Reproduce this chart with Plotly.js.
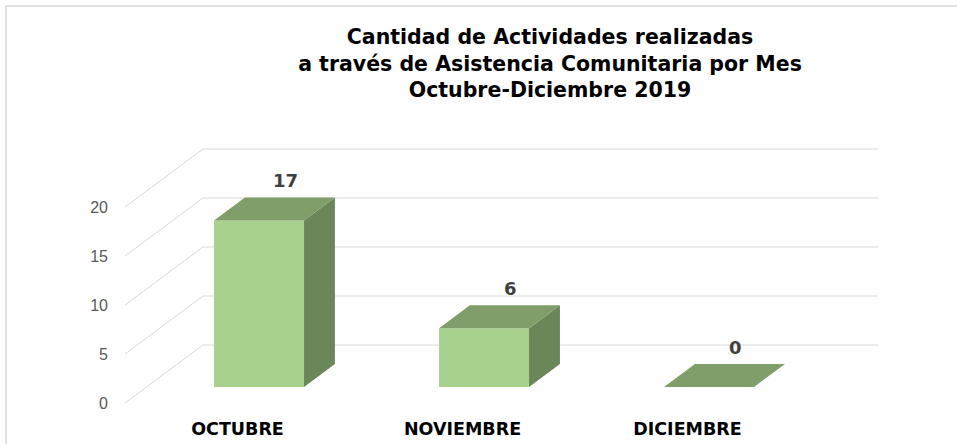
<!DOCTYPE html>
<html>
<head>
<meta charset="utf-8">
<script src="https://cdn.plot.ly/plotly-3.0.1.min.js"></script>
<style>
  html, body { margin: 0; padding: 0; background: #ffffff; }
  #chart { width: 957px; height: 444px; }
</style>
</head>
<body>
<div id="chart"></div>
<script>
// ---- data ----
const categories = ["OCTUBRE", "NOVIEMBRE", "DICIEMBRE"];
const values = [17, 6, 0];
const yTickValues = [0, 5, 10, 15, 20];
const yTickLabels = ["0", "5", "10", "15", "20"];
const titleLines = [
  "Cantidad de Actividades realizadas",
  "a través de Asistencia Comunitaria por Mes",
  "Octubre-Diciembre 2019"
];

// ---- oblique 3D projection settings (in axis units) ----
const DX = 78 / 225;     // horizontal shift of the back wall, x-axis units
const DY = 58 / 9.8;     // vertical shift of the back wall, y-axis units
const HALF_W = 0.2;      // half bar width (category units)
const F1 = 0.276;        // bar front depth
const F2 = 0.672;        // bar back depth

// gridlines: left wall diagonal + back wall horizontal
const gridX = [], gridY = [];
yTickValues.forEach(v => {
  gridX.push(-0.5, -0.5 + DX, categories.length - 0.5 + DX, null);
  gridY.push(v, v + DY, v + DY, null);
});

const frontX = [], frontY = [], topX = [], topY = [], sideX = [], sideY = [];
categories.forEach((c, i) => {
  const v = values[i];
  const xl = i - HALF_W, xr = i + HALF_W;
  frontX.push(xl + F1 * DX, xr + F1 * DX, xr + F1 * DX, xl + F1 * DX, null);
  frontY.push(F1 * DY, F1 * DY, v + F1 * DY, v + F1 * DY, null);
  topX.push(xl + F1 * DX, xr + F1 * DX, xr + F2 * DX, xl + F2 * DX, null);
  topY.push(v + F1 * DY, v + F1 * DY, v + F2 * DY, v + F2 * DY, null);
  sideX.push(xr + F1 * DX, xr + F2 * DX, xr + F2 * DX, xr + F1 * DX, null);
  sideY.push(F1 * DY, F2 * DY, v + F2 * DY, v + F1 * DY, null);
});

const traces = [
  { type: "scatter", mode: "lines", x: gridX, y: gridY,
    line: { color: "#D9D9D9", width: 1 }, hoverinfo: "skip", showlegend: false },
  { type: "scatter", mode: "lines", x: sideX, y: sideY, fill: "toself",
    fillcolor: "#6B8759", line: { color: "#6B8759", width: 0 }, hoverinfo: "skip", showlegend: false },
  { type: "scatter", mode: "lines", x: frontX, y: frontY, fill: "toself",
    fillcolor: "#A9D18E", line: { color: "#A9D18E", width: 0 }, hoverinfo: "skip", showlegend: false },
  { type: "scatter", mode: "lines", x: topX, y: topY, fill: "toself",
    fillcolor: "#7F9E6A", line: { color: "#7F9E6A", width: 0 }, hoverinfo: "skip", showlegend: false }
];

const annotations = categories.map((c, i) => ({
  x: i + 0.62 * DX, y: values[i] + F2 * DY, xref: "x", yref: "y",
  text: String(values[i]), showarrow: false, yanchor: "bottom", yshift: 4,
  font: { family: "DejaVu Sans", size: 18, color: "#404040", weight: "bold" }
}));

const layout = {
  width: 957, height: 444,
  margin: { l: 120, r: 72, t: 140, b: 34 },
  paper_bgcolor: "#ffffff", plot_bgcolor: "rgba(0,0,0,0)",
  showlegend: false,
  title: {
    text: titleLines.join("<br>"),
    font: { family: "DejaVu Sans", size: 20.5, color: "#000000", weight: "bold" },
    x: 550 / 957, xref: "container", xanchor: "center",
    y: 1 - 44 / 444, yref: "container", yanchor: "top"
  },
  xaxis: {
    range: [-0.5 - 5 / 225, -0.5 + 760 / 225],
    tickmode: "array", tickvals: categories.map((c, i) => i), ticktext: categories,
    showgrid: false, zeroline: false, showline: false, ticks: "",
    ticklabelstandoff: 6,
    tickfont: { family: "DejaVu Sans", size: 17.5, color: "#000000", weight: "bold" },
    fixedrange: true
  },
  yaxis: {
    range: [-7 / 9.8, 263 / 9.8],
    tickmode: "array", tickvals: yTickValues, ticktext: yTickLabels,
    showgrid: false, zeroline: false, showline: false, ticks: "",
    ticklabelstandoff: 11,
    tickfont: { family: "Liberation Sans", size: 16, color: "#595959" },
    fixedrange: true
  },
  annotations: annotations,
  shapes: [{
    type: "rect", xref: "paper", yref: "paper",
    x0: (6 - 120) / 765, x1: (962 - 120) / 765,
    y0: (410 - 450) / 270, y1: (410 - 6) / 270,
    line: { color: "#D9D9D9", width: 1.5 }, fillcolor: "rgba(0,0,0,0)", layer: "below"
  }]
};

Plotly.newPlot("chart", traces, layout, { displayModeBar: false, staticPlot: true });
</script>
</body>
</html>
